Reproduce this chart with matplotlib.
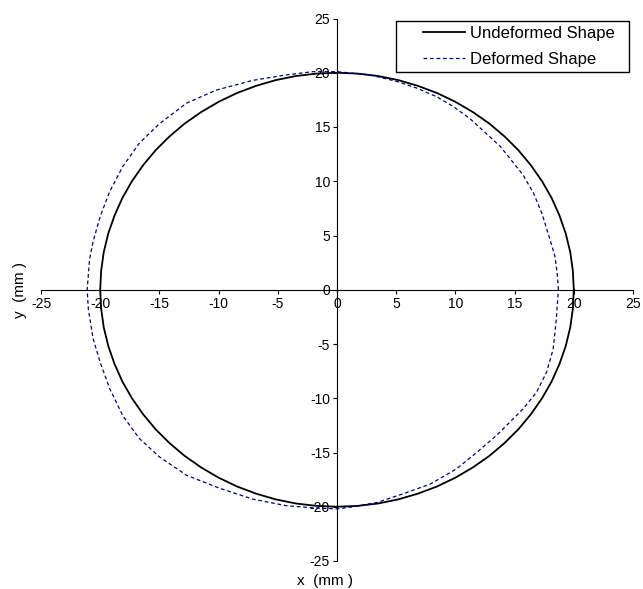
import numpy as np
import matplotlib
matplotlib.use('Agg')
import matplotlib.pyplot as plt
from matplotlib.lines import Line2D
from matplotlib.legend_handler import HandlerLine2D

plt.rcParams['font.family'] = ['Liberation Sans', 'DejaVu Sans']
plt.rcParams['axes.unicode_minus'] = False

# Undeformed shape (mm)
undef_x = [20.00, 19.92, 19.70, 19.32, 18.79, 18.13, 17.32, 16.38, 15.32, 14.14,
           12.86, 11.47, 10.00, 8.45, 6.84, 5.18, 3.47, 1.74, 0.00,
           -1.74, -3.47, -5.18, -6.84, -8.45, -10.00, -11.47, -12.86, -14.14,
           -15.32, -16.38, -17.32, -18.13, -18.79, -19.32, -19.70, -19.92, -20.00,
           -19.92, -19.70, -19.32, -18.79, -18.13, -17.32, -16.38, -15.32, -14.14,
           -12.86, -11.47, -10.00, -8.45, -6.84, -5.18, -3.47, -1.74, 0.00,
           1.74, 3.47, 5.18, 6.84, 8.45, 10.00, 11.47, 12.86, 14.14,
           15.32, 16.38, 17.32, 18.13, 18.79, 19.32, 19.70, 19.92, 20.00]
undef_y = [0.00, 1.74, 3.47, 5.18, 6.84, 8.45, 10.00, 11.47, 12.86, 14.14,
           15.32, 16.38, 17.32, 18.13, 18.79, 19.32, 19.70, 19.92, 20.00,
           19.92, 19.70, 19.32, 18.79, 18.13, 17.32, 16.38, 15.32, 14.14,
           12.86, 11.47, 10.00, 8.45, 6.84, 5.18, 3.47, 1.74, 0.00,
           -1.74, -3.47, -5.18, -6.84, -8.45, -10.00, -11.47, -12.86, -14.14,
           -15.32, -16.38, -17.32, -18.13, -18.79, -19.32, -19.70, -19.92, -20.00,
           -19.92, -19.70, -19.32, -18.79, -18.13, -17.32, -16.38, -15.32, -14.14,
           -12.86, -11.47, -10.00, -8.45, -6.84, -5.18, -3.47, -1.74, 0.00]

# Deformed shape (mm)
def_x = [18.7, 18.6, 18.4, 18.0, 17.3, 16.6, 15.7, 14.9, 13.8, 12.6, 11.2, 9.8,
         8.4, 6.7, 5.05, 2.8, 0.0,
         -2.05, -4.3, -7.1, -10.2, -12.7, -15.0, -16.7, -18.1, -19.2, -20.0,
         -20.6, -20.9, -21.1,
         -21.0, -20.6, -20.0, -19.2, -18.1, -16.7, -15.0, -12.7, -9.9, -7.1,
         -4.3, -2.05, 0.0,
         1.4, 3.4, 5.6, 7.9, 10.1, 11.8, 13.5, 14.6, 15.7, 16.85, 17.7, 18.25,
         18.5, 18.7]
def_y = [0.0, 1.5, 3.1, 4.6, 7.05, 8.9, 10.6, 11.7, 13.2, 14.4, 15.8, 16.9,
         17.8, 18.6, 19.2, 19.8, 20.1,
         20.1, 19.8, 19.3, 18.4, 17.2, 15.3, 13.5, 11.35, 9.05, 6.75,
         4.45, 2.8, 0.0,
         -1.8, -4.5, -6.7, -9.1, -11.6, -13.7, -15.4, -17.1, -18.3, -19.3,
         -19.9, -20.1, -20.2,
         -20.0, -19.6, -18.8, -17.9, -16.5, -15.0, -13.4, -12.2, -11.0, -9.45,
         -7.6, -5.5, -3.0, 0.0]

ticks = [-25, -20, -15, -10, -5, 0, 5, 10, 15, 20, 25]


class ShortLineHandler(HandlerLine2D):
    # legend line only on the right part of the handle box
    def get_xdata(self, legend, xdescent, ydescent, width, height, fontsize):
        xdata, xdata_marker = super().get_xdata(legend, xdescent, ydescent, width, height, fontsize)
        xdata = np.linspace(-xdescent + 0.35 * width, -xdescent + width, len(xdata))
        return xdata, xdata_marker


fig = plt.figure(figsize=(6.43, 5.89), dpi=100)
ax = fig.add_axes([41 / 643, 1 - 561 / 589, 592 / 643, 542.5 / 589])

ax.plot(undef_x, undef_y, color='black', lw=1.3, label='Undeformed Shape  ')
ax.plot(def_x, def_y, color='#000080', lw=0.9, linestyle=(0, (3, 2.2)), label='Deformed Shape')

ax.set_xlim(-25, 25)
ax.set_ylim(-25, 25)
ax.set_xticks(ticks)
ax.set_yticks(ticks)
ax.tick_params(labelsize=10, direction='out', length=3, width=0.8, pad=2)

ax.spines['left'].set_position(('data', 0))
ax.spines['bottom'].set_position(('data', 0))
ax.spines['top'].set_visible(False)
ax.spines['right'].set_visible(False)

ax.set_xlabel('x  (mm )', fontsize=11)
ax.set_ylabel('y  (mm )', fontsize=11)
ax.xaxis.set_label_coords(0.48, -0.024)
ax.yaxis.set_label_coords(-0.024, 0.5)

leg = ax.legend(loc='upper right', bbox_to_anchor=(0.993, 0.995), borderaxespad=0,
                fontsize=12, fancybox=False, edgecolor='black', framealpha=1,
                handlelength=3.85, handletextpad=0.3, borderpad=0.3, labelspacing=0.65,
                handler_map={Line2D: ShortLineHandler()})
leg.get_frame().set_linewidth(1.0)

fig.savefig('out.png', dpi=100)
